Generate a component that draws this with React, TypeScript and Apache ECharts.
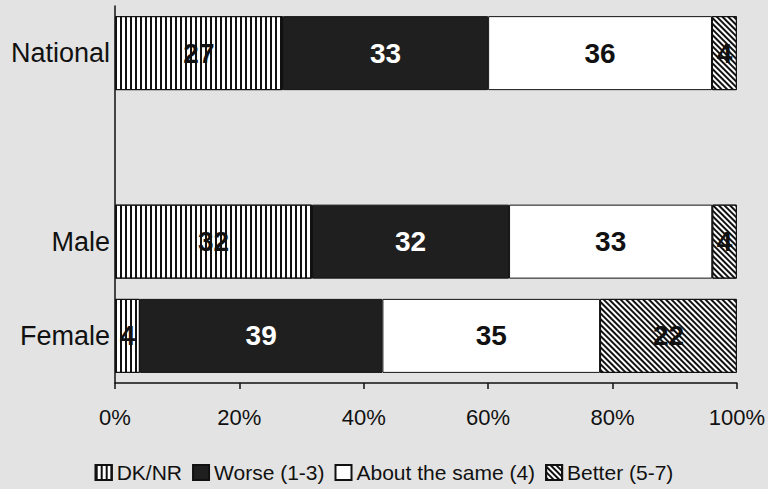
import React, { useEffect, useRef } from 'react';
import * as echarts from 'echarts';

const categories = ['National', '', 'Male', 'Female'];
const seriesNames = ['DK/NR', 'Worse (1-3)', 'About the same (4)', 'Better (5-7)'];
const dkNr = [27, null, 32, 4];
const worse = [33, null, 32, 39];
const aboutSame = [36, null, 33, 35];
const better = [4, null, 4, 22];
const xTicks = [0, 20, 40, 60, 80, 100];

const FONT = '"Liberation Sans", Arial, sans-serif';

export default function App() {
  const ref = useRef<HTMLDivElement>(null);
  useEffect(() => {
    if (!ref.current) return;
    const chart = echarts.init(ref.current, undefined, { renderer: 'svg' });
    const raw = [dkNr, worse, aboutSame, better];
    const totals = categories.map((_, i) =>
      raw.reduce((s, arr) => s + (arr[i] == null ? 0 : (arr[i] as number)), 0)
    );
    const share = (arr: (number | null)[]) =>
      arr.map((v, i) => (v == null || !totals[i] ? null : (v / totals[i]) * 100));

    const fills = ['#ffffff', '#1f1f1f', '#ffffff', '#ffffff'];
    const labelColors = ['#111', '#ffffff', '#111', '#111'];
    const decals: any[] = [
      { symbol: 'rect', symbolSize: 1, color: '#111', dashArrayX: [2, 3], dashArrayY: [1, 0] },
      null,
      null,
      { symbol: 'rect', symbolSize: 1, color: '#111', dashArrayX: [1, 0], dashArrayY: [1.5, 1.6], rotation: Math.PI / 4 },
    ];

    const series = raw.map((arr, k) => ({
      name: seriesNames[k],
      type: 'bar',
      stack: 'total',
      barWidth: 74,
      data: share(arr),
      itemStyle: {
        color: fills[k],
        borderColor: '#111',
        borderWidth: 1,
        ...(decals[k] ? { decal: decals[k] } : {}),
      },
      label: {
        show: true,
        position: 'inside',
        fontFamily: FONT,
        fontWeight: 'bold',
        fontSize: 28,
        color: labelColors[k],
        formatter: (p: any) => String(arr[p.dataIndex]),
      },
    }));

    chart.setOption({
      animation: false,
      backgroundColor: '#e3e3e3',
      grid: { left: 115, right: 31, top: 6, bottom: 106, containLabel: false },
      legend: {
        data: seriesNames,
        bottom: 1,
        left: 'center',
        icon: 'rect',
        itemWidth: 16,
        itemHeight: 15,
        itemGap: 10,
        textStyle: { fontFamily: FONT, fontSize: 21, color: '#111' },
      },
      xAxis: {
        type: 'value',
        min: xTicks[0],
        max: xTicks[xTicks.length - 1],
        interval: xTicks[1] - xTicks[0],
        axisLine: { show: true, lineStyle: { color: '#111', width: 1.5 } },
        axisTick: { show: true, length: 6, lineStyle: { color: '#111', width: 1.5 } },
        splitLine: { show: false },
        axisLabel: {
          margin: 23,
          fontFamily: FONT,
          fontSize: 22,
          color: '#111',
          formatter: (v: number) => v + '%',
        },
      },
      yAxis: {
        type: 'category',
        data: categories,
        inverse: true,
        axisLine: { show: true, lineStyle: { color: '#111', width: 1.5 } },
        axisTick: { show: false },
        axisLabel: { margin: 5, fontFamily: FONT, fontSize: 27, color: '#111' },
      },
      series,
    });
    return () => chart.dispose();
  }, []);
  return (
    <div
      ref={ref}
      style={{ position: 'fixed', left: 0, top: 0, width: 768, height: 489 }}
    />
  );
}
